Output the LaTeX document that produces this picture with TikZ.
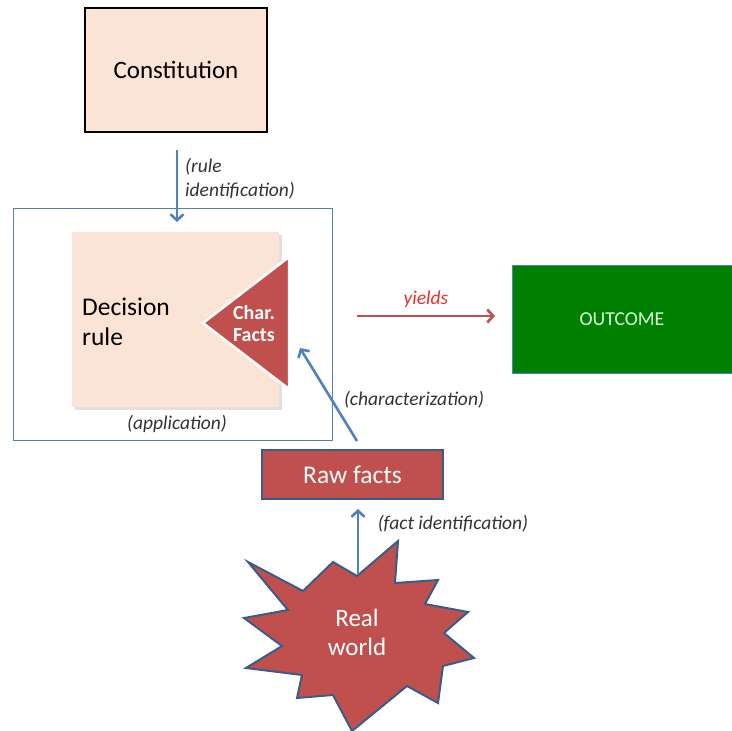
\documentclass[tikz,border=0pt]{standalone}
\usepackage{fontspec}
\setmainfont{Carlito}
\usetikzlibrary{arrows.meta}
\definecolor{peach}{HTML}{FBE4D6}
\definecolor{cred}{HTML}{C0504D}
\definecolor{cblue}{HTML}{4F81BD}
\definecolor{dblue}{HTML}{385D8A}
\definecolor{cgreen}{HTML}{008000}
\definecolor{lbl}{HTML}{333333}
\definecolor{yred}{HTML}{E8302C}
\tikzset{
  box/.style={rectangle, inner sep=0pt},
  bluearrow/.style={draw=cblue, line width=2.6pt, -{Straight Barb[length=6pt,width=13pt,line width=2.6pt]}},
  redarrow/.style={draw=cred, line width=2.6pt, -{Straight Barb[length=6pt,width=13pt,line width=2.6pt]}},
  lab/.style={font=\fontsize{19.5}{24}\selectfont\itshape, text=lbl, inner sep=0pt, align=left},
}
\begin{document}
\begin{tikzpicture}[x=1pt,y=-1pt]
\useasboundingbox (0,0) rectangle (732,731);
% Constitution
\node[box, fill=peach, draw=black, line width=2pt, minimum width=182pt, minimum height=124pt,
  font=\fontsize{25}{29}\selectfont] (const) at (176,70) {Constitution};
% frame
\node[box, draw=cblue, line width=1pt, minimum width=319pt, minimum height=232pt] (frame) at (172.5,324) {};
% decision rule box with faint shadow
\fill[black!12] (75,235) rectangle (282,410);
\node[box, fill=peach, minimum width=207pt, minimum height=175pt] (decbox) at (175.5,319.5) {};
\node[anchor=west, inner sep=0pt, align=left, font=\fontsize{25.5}{30}\selectfont] (dec) at (82,322) {Decision\\rule};
% triangle
\draw[fill=cred, draw=white, line width=2.5pt, line join=miter] (203,323) -- (289,257) -- (289,389) -- cycle;
\node[inner sep=0pt, align=center, text=white, font=\fontsize{20}{22}\selectfont\bfseries] (char) at (254,324) {Char.\\Facts};
% outcome
\node[box, fill=cgreen, draw=cblue, line width=1pt, minimum width=220pt, minimum height=108pt,
  text=white!85!green, font=\fontsize{19.7}{22}\selectfont] (out) at (622,319) {OUTCOME};
% raw facts
\node[box, fill=cred, draw=dblue, line width=2pt, minimum width=181pt, minimum height=49pt,
  text=white, font=\fontsize{25.5}{28}\selectfont] (raw) at (352.5,474.5) {Raw facts};
% real world starburst
\draw[fill=cred, draw=dblue, line width=2pt, line join=miter]
  (248,562) -- (303,591) -- (333,562) -- (357,576) -- (398,541) -- (395,583) -- (438,580)
  -- (425,604) -- (468,612) -- (444,633) -- (474,658) -- (443,666) -- (438,703)
  -- (407,686) -- (352,731) -- (333,695) -- (297,698) -- (302,675) -- (246,668)
  -- (282,646) -- (244,618) -- (288,610) -- cycle;
\node[inner sep=0pt, align=center, text=white, font=\fontsize{25}{29}\selectfont] (real) at (357,632) {Real\\world};
% connectors
\coordinate (r1) at (177,150);
\coordinate (r2) at (177,222);
\draw[bluearrow] (r1) -- (r2);
\coordinate (c1) at (357,441);
\coordinate (c2) at (300,348);
\draw[bluearrow] (c1) -- (c2);
\coordinate (y1) at (357,316);
\coordinate (y2) at (495,316);
\draw[redarrow] (y1) -- (y2);
\coordinate (f1) at (358,574);
\coordinate (f2) at (358,509);
\draw[bluearrow] (f1) -- (f2);
% labels
\node[lab, anchor=north west] (lrule) at (185,158) {(rule\\identification)};
\node[lab] (lapp) at (177,424) {(application)};
\node[lab] (lchar) at (414,400) {(characterization)};
\node[lab, text=yred] (lyield) at (426,299) {yields};
\node[lab] (lfact) at (453,524) {(fact identification)};
\end{tikzpicture}
\end{document}
